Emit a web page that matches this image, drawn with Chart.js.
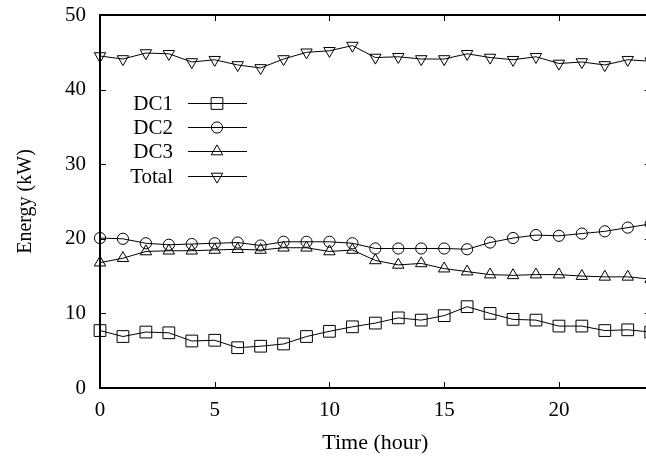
<!DOCTYPE html>
<html>
<head>
<meta charset="utf-8">
<script src="https://cdn.jsdelivr.net/npm/chart.js@4.4.0/dist/chart.umd.min.js"></script>
<style>
  html, body { margin: 0; padding: 0; overflow: hidden; background: #fff; }
  #wrap { width: 660px; height: 457px; }
</style>
</head>
<body>
<div id="wrap"><canvas id="energyChart" width="660" height="457"></canvas></div>
<script>
// readings from the picture
const hours = [0, 1, 2, 3, 4, 5, 6, 7, 8, 9, 10, 11, 12, 13, 14, 15, 16, 17, 18, 19, 20, 21, 22, 23, 24];
const dc1 = [7.7, 6.9, 7.5, 7.4, 6.3, 6.4, 5.4, 5.6, 5.9, 6.9, 7.6, 8.2, 8.7, 9.4, 9.1, 9.7, 10.9, 10.0, 9.2, 9.1, 8.3, 8.3, 7.7, 7.8, 7.5];
const dc2 = [20.1, 20.0, 19.4, 19.2, 19.3, 19.4, 19.5, 19.1, 19.6, 19.6, 19.6, 19.4, 18.7, 18.7, 18.7, 18.7, 18.6, 19.5, 20.1, 20.5, 20.4, 20.7, 21.0, 21.5, 22.0];
const dc3 = [16.8, 17.4, 18.3, 18.4, 18.4, 18.5, 18.6, 18.5, 18.8, 18.8, 18.3, 18.5, 17.1, 16.5, 16.7, 16.0, 15.6, 15.2, 15.1, 15.2, 15.2, 15.0, 14.9, 14.9, 14.6];
const total = [44.5, 44.1, 44.9, 44.8, 43.7, 44.0, 43.3, 42.9, 44.1, 45.0, 45.2, 45.9, 44.3, 44.4, 44.1, 44.1, 44.8, 44.3, 44.0, 44.4, 43.5, 43.7, 43.3, 44.0, 43.8];
const xTicks = [0, 5, 10, 15, 20];
const yTicks = [0, 10, 20, 30, 40, 50];

const FONT = "'Liberation Serif', 'DejaVu Serif', serif";
Chart.defaults.font.family = FONT;
Chart.defaults.color = '#000';

function series(label, values, style, radius, rotation) {
    return {
        label: label,
        data: hours.map((h, i) => ({ x: h, y: values[i] })),
        borderColor: '#000',
        borderWidth: 1,
        pointStyle: style,
        pointRadius: radius,
        pointRotation: rotation || 0,
        pointBorderColor: '#000',
        pointBorderWidth: 1,
        pointBackgroundColor: 'transparent',
        tension: 0,
        clip: false
    };
}

// gnuplot-like border with inward ticks on all four sides
const framePlugin = {
    id: 'frame',
    beforeDatasetsDraw(chart) {
        const ctx = chart.ctx;
        const a = chart.chartArea;
        const xs = chart.scales.x, ys = chart.scales.y;
        const tl = 6;
        ctx.save();
        ctx.strokeStyle = '#000';
        ctx.lineWidth = 1;
        ctx.beginPath();
        xTicks.forEach(v => {
            const px = Math.round(xs.getPixelForValue(v)) + 0.5;
            ctx.moveTo(px, a.bottom); ctx.lineTo(px, a.bottom - tl);
            ctx.moveTo(px, a.top); ctx.lineTo(px, a.top + tl);
        });
        yTicks.forEach(v => {
            const py = Math.round(ys.getPixelForValue(v)) + 0.5;
            ctx.moveTo(a.left, py); ctx.lineTo(a.left + tl, py);
            ctx.moveTo(a.right, py); ctx.lineTo(a.right - tl, py);
        });
        ctx.stroke();
        ctx.lineWidth = 2;
        ctx.strokeRect(a.left, a.top, a.right - a.left, a.bottom - a.top);
        ctx.restore();
    }
};

// legend: label text, then a line sample with the marker
const keyPlugin = {
    id: 'key',
    afterDraw(chart) {
        const ctx = chart.ctx;
        const rows = [103, 127, 151, 176];
        ctx.save();
        ctx.font = '21px ' + FONT;
        ctx.textAlign = 'right';
        ctx.textBaseline = 'middle';
        chart.data.datasets.forEach((ds, i) => {
            const y = rows[i];
            ctx.fillStyle = '#000';
            ctx.fillText(ds.label, 173, y + 1);
            ctx.strokeStyle = '#000';
            ctx.lineWidth = 1;
            ctx.beginPath();
            ctx.moveTo(188, y + 0.5);
            ctx.lineTo(247, y + 0.5);
            ctx.stroke();
            ctx.fillStyle = 'rgba(0,0,0,0)';
            Chart.helpers.drawPoint(ctx, {
                pointStyle: ds.pointStyle,
                radius: ds.pointRadius,
                rotation: ds.pointRotation,
                borderWidth: 1
            }, 217, y + 0.5);
        });
        ctx.restore();
    }
};

new Chart(document.getElementById('energyChart'), {
    type: 'line',
    data: {
        datasets: [
            series('DC1', dc1, 'rect', 8.3),
            series('DC2', dc2, 'circle', 5.6),
            series('DC3', dc3, 'triangle', 6.6),
            series('Total', total, 'triangle', 6.6, 180)
        ]
    },
    plugins: [framePlugin, keyPlugin],
    options: {
        responsive: false,
        animation: false,
        layout: { padding: { top: 15, right: 8, left: 0, bottom: 0 } },
        plugins: {
            legend: { display: false },
            tooltip: { enabled: false }
        },
        scales: {
            x: {
                type: 'linear',
                min: 0,
                max: 24,
                grid: { display: false, drawTicks: false },
                border: { display: false },
                afterBuildTicks: scale => { scale.ticks = xTicks.map(v => ({ value: v })); },
                afterFit: scale => {
                    scale.height = 69;
                    scale.paddingLeft = 0;
                    scale.paddingRight = 0;
                },
                ticks: { padding: 10, font: { size: 21 }, maxRotation: 0 },
                title: { display: true, text: 'Time (hour)', font: { size: 22 }, padding: { top: 0, bottom: 1 } }
            },
            y: {
                type: 'linear',
                min: 0,
                max: 50,
                grid: { display: false, drawTicks: false },
                border: { display: false },
                afterBuildTicks: scale => { scale.ticks = yTicks.map(v => ({ value: v })); },
                afterFit: scale => {
                    scale.width = 100;
                    scale.paddingTop = 0;
                    scale.paddingBottom = 0;
                },
                ticks: { padding: 14, font: { size: 21 } },
                title: { display: true, text: 'Energy (kW)', font: { size: 20 }, padding: { top: 14, bottom: 0 } }
            }
        }
    }
});
</script>
</body>
</html>
